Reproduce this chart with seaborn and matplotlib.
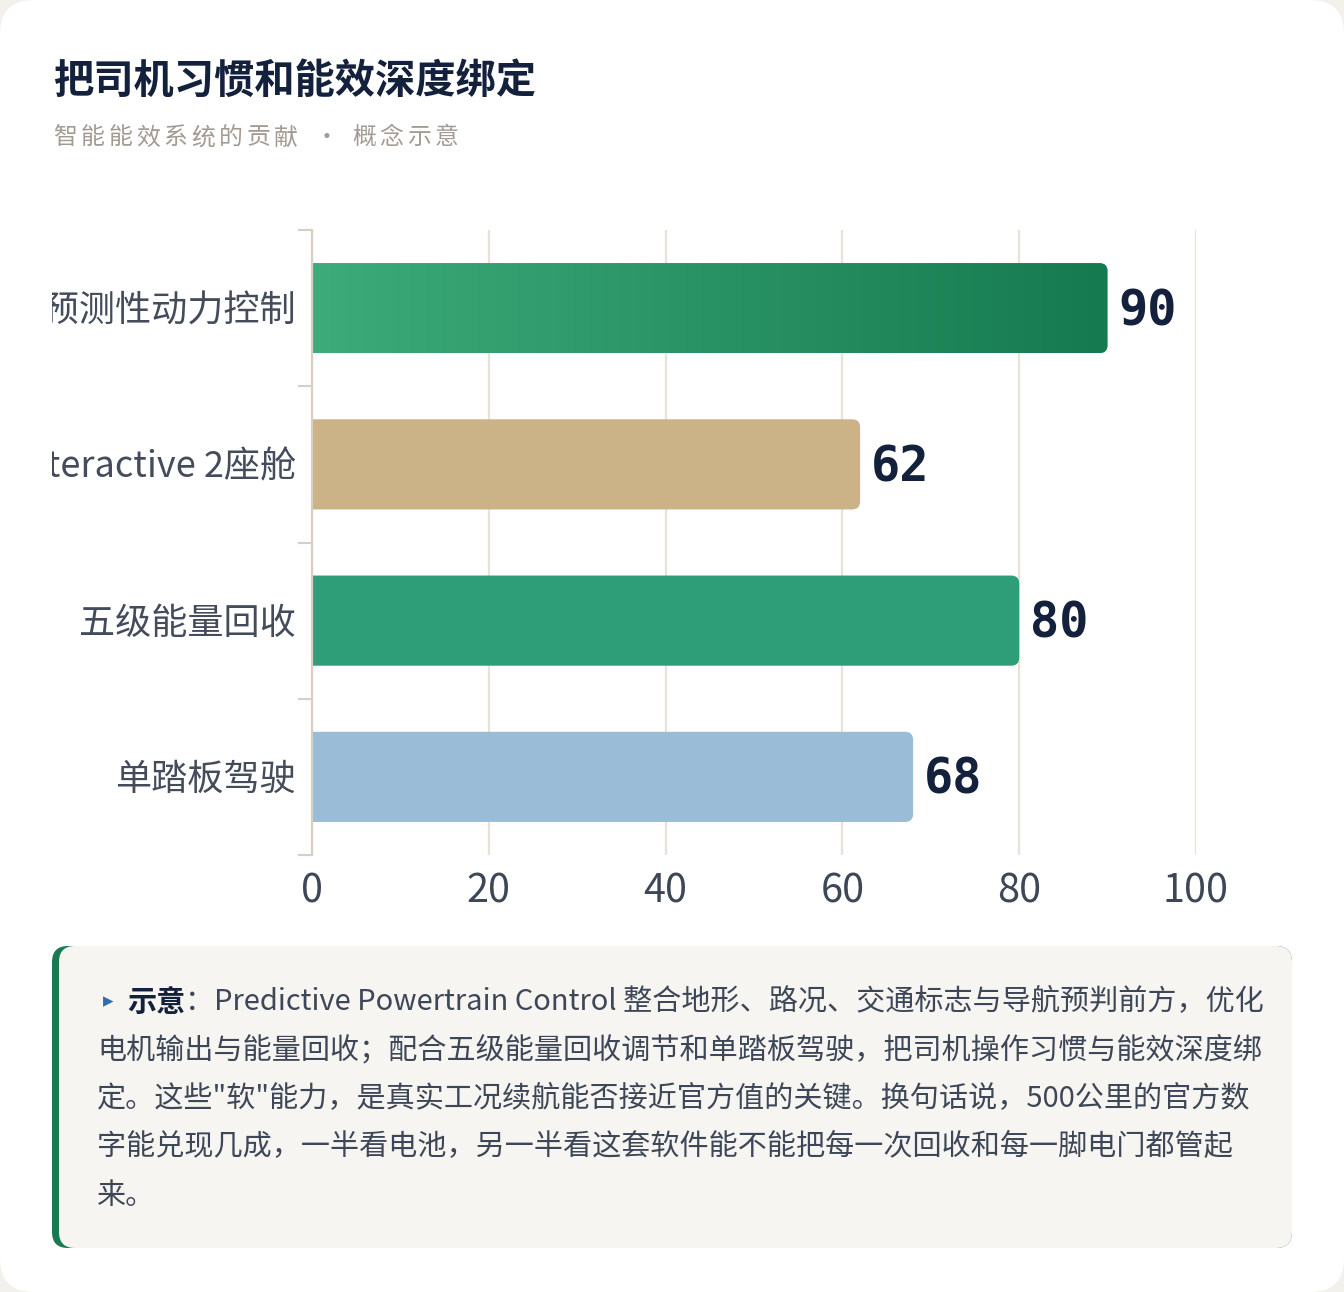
import numpy as np
import pandas as pd
import seaborn as sns
import matplotlib
matplotlib.use("Agg")
import matplotlib.pyplot as plt
from matplotlib.path import Path
from matplotlib.patches import PathPatch, FancyBboxPatch
from matplotlib.transforms import Bbox, TransformedBbox, IdentityTransform, blended_transform_factory
from matplotlib.colors import LinearSegmentedColormap

# ---------------- data ----------------
categories = ["PPC预测性动力控制", "Interactive 2座舱", "五级能量回收", "单踏板驾驶"]
values = [90, 62, 80, 68]
bar_colors = ["#2a9466", "#cbb287", "#2e9e78", "#9bbcd6"]
gradient_first = ("#3dab7a", "#167a50")
x_ticks = [0, 20, 40, 60, 80, 100]

title = "把司机习惯和能效深度绑定"
subtitle_a = "智能能效系统的贡献"
subtitle_b = "概念示意"
note_head = "示意"
note_lines = [
    "：Predictive Powertrain Control 整合地形、路况、交通标志与导航预判前方，优化",
    "电机输出与能量回收；配合五级能量回收调节和单踏板驾驶，把司机操作习惯与能效深度绑",
    "定。这些\"软\"能力，是真实工况续航能否接近官方值的关键。换句话说，500公里的官方数",
    "字能兑现几成，一半看电池，另一半看这套软件能不能把每一次回收和每一脚电门都管起",
    "来。",
]

# ---------------- style ----------------
sns.set_theme(style="white")
CJK = ["Noto Sans CJK SC", "DejaVu Sans"]
plt.rcParams["font.family"] = CJK

W, H = 1344, 1292
fig = plt.figure(figsize=(W / 100, H / 100), dpi=100)
fig.patch.set_facecolor("#f3f1ec")

def fx(x):
    return x / W

def fy(y_top):
    return 1 - y_top / H

# white card
card = FancyBboxPatch((0, 0), W, H, boxstyle="round,pad=0,rounding_size=34",
                      transform=IdentityTransform(), facecolor="white",
                      edgecolor="none", zorder=-10)
fig.patches.append(card)

# axes
ax_l, ax_r, ax_t, ax_b = 312, 1196, 230, 855
ax = fig.add_axes([fx(ax_l), fy(ax_b), fx(ax_r - ax_l), (ax_b - ax_t) / H])
ax.set_facecolor("none")

df = pd.DataFrame({"cat": categories, "val": values})
sns.barplot(data=df, x="val", y="cat", hue="cat", palette=bar_colors,
            orient="h", width=0.577, legend=False, ax=ax, saturation=1)

ax.set_xlim(0, 100)
ax.set_ylim(len(categories) - 0.5, -0.5)

# replace bars with right-rounded bars
px_per_x = (ax_r - ax_l) / 100.0
px_per_y = (ax_b - ax_t) / len(categories)
rx = 8 / px_per_x
ry = 8 / px_per_y

def rounded_right(x0, y0, x1, y1):
    verts = [(x0, y0), (x1 - rx, y0), (x1, y0), (x1, y0 + ry),
             (x1, y1 - ry), (x1, y1), (x1 - rx, y1), (x0, y1), (x0, y0)]
    codes = [Path.MOVETO, Path.LINETO, Path.CURVE3, Path.CURVE3,
             Path.LINETO, Path.CURVE3, Path.CURVE3, Path.LINETO, Path.CLOSEPOLY]
    return Path(verts, codes)

patches = list(ax.patches)
for i, p in enumerate(patches):
    x0 = p.get_x()
    y0 = p.get_y()
    w = p.get_width()
    h = p.get_height()
    fc = p.get_facecolor()
    p.remove()
    path = rounded_right(x0, y0, x0 + w, y0 + h)
    if i == 0:
        pp = PathPatch(path, facecolor="none", edgecolor="none", zorder=2)
        ax.add_patch(pp)
        cmap = LinearSegmentedColormap.from_list("g", list(gradient_first))
        grad = np.linspace(0, 1, 256).reshape(1, -1)
        im = ax.imshow(grad, extent=(x0, x0 + w, y0 + h, y0), aspect="auto",
                       cmap=cmap, zorder=2, origin="upper")
        im.set_clip_path(pp)
    else:
        pp = PathPatch(path, facecolor=fc, edgecolor="none", zorder=2)
        ax.add_patch(pp)

ax.set_xlim(0, 100)
ax.set_ylim(len(categories) - 0.5, -0.5)

# grid / spines
ax.set_xticks(x_ticks)
ax.grid(axis="x", color="#e8e3d8", linewidth=1.6, zorder=0)
ax.grid(axis="y", visible=False)
ax.set_axisbelow(True)
for s in ["top", "right", "bottom"]:
    ax.spines[s].set_visible(False)
ax.spines["left"].set_color("#d6cfc3")
ax.spines["left"].set_linewidth(1.6)
ax.spines["left"].set_zorder(3)

ax.set_yticks(np.arange(-0.5, len(categories) + 0.5, 1.0), minor=True)
ax.tick_params(axis="y", which="minor", length=10, width=1.5, color="#d6cfc3", left=True)
ax.tick_params(axis="y", which="major", length=0, labelleft=False)
ax.tick_params(axis="x", which="major", length=0, pad=12, labelsize=28.5, labelcolor="#3d4757")
ax.set_xticklabels([str(t) for t in x_ticks])
ax.set_xlabel("")
ax.set_ylabel("")

# category labels (clipped at card padding like the reference)
clipbox = TransformedBbox(Bbox([[fx(52), 0], [1, 1]]), fig.transFigure)
ytrans = blended_transform_factory(fig.transFigure, ax.transData)
for i, c in enumerate(categories):
    t = fig.text(fx(296), i + 0.02, c, transform=ytrans, ha="right", va="center",
                 fontsize=26, color="#444c5c", family=CJK)
    t.set_clip_box(clipbox)
    t.set_clip_on(True)

# value labels
for i, v in enumerate(values):
    ax.annotate(f"{v}", xy=(v, i), xytext=(11, -3), textcoords="offset pixels",
                ha="left", va="center", fontsize=35, fontweight="bold",
                family="DejaVu Sans Mono", color="#14213d")

# title / subtitle
fig.text(fx(53), fy(81), title, ha="left", va="center", fontsize=29,
         fontweight="bold", color="#14213d", family=CJK)
pitch = 27.6
for i, ch in enumerate(subtitle_a):
    fig.text(fx(53 + i * pitch), fy(138), ch, ha="left", va="center",
             fontsize=17.2, color="#a39b92", family=CJK)
fig.text(fx(327), fy(138), "·", ha="center", va="center", fontsize=17.2,
         color="#a39b92", family=CJK)
for i, ch in enumerate(subtitle_b):
    fig.text(fx(352 + i * pitch), fy(138), ch, ha="left", va="center",
             fontsize=17.2, color="#a39b92", family=CJK)

# note box
bx0, bx1, by0, by1 = 52, 1292, 946, 1248
green = FancyBboxPatch((bx0, H - by1), bx1 - bx0, by1 - by0,
                       boxstyle="round,pad=0,rounding_size=16",
                       transform=IdentityTransform(), facecolor="#187a52",
                       edgecolor="none", zorder=-5)
light = FancyBboxPatch((bx0 + 7, H - by1), bx1 - bx0 - 7, by1 - by0,
                       boxstyle="round,pad=0,rounding_size=16",
                       transform=IdentityTransform(), facecolor="#f7f5f1",
                       edgecolor="none", zorder=-4)
fig.patches.extend([green, light])

line_y = [1002, 1050.5, 1099, 1147.5, 1196]
fs_note = 20.95
fig.text(fx(108), fy(line_y[0] - 1), "▸", ha="center", va="center", fontsize=15,
         color="#2f6db5", family=["DejaVu Sans"])
head = fig.text(fx(127), fy(line_y[0]), note_head, ha="left", va="center",
                fontsize=fs_note, fontweight="bold", color="#14213d", family=CJK)
renderer = fig.canvas.get_renderer()
hb = head.get_window_extent(renderer)
fig.text(hb.x1 / W, fy(line_y[0]), note_lines[0], ha="left", va="center",
         fontsize=fs_note, color="#3d4757", family=CJK)
for k in range(1, len(note_lines)):
    fig.text(fx(97), fy(line_y[k]), note_lines[k], ha="left", va="center",
             fontsize=fs_note, color="#3d4757", family=CJK)

fig.savefig("out.png", dpi=100, facecolor=fig.get_facecolor())
